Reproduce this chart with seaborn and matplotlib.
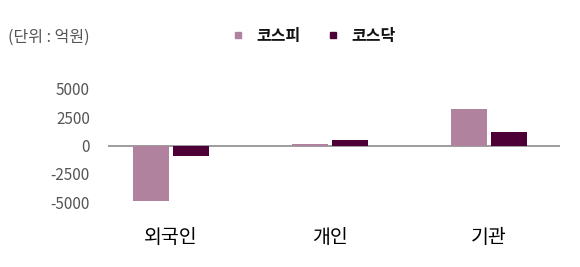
import matplotlib
matplotlib.use("Agg")
import matplotlib.pyplot as plt
import seaborn as sns
import pandas as pd
from matplotlib.lines import Line2D

categories = ["외국인", "개인", "기관"]
series_names = ["코스피", "코스닥"]
kospi = [-4900, 100, 3240]
kosdaq = [-950, 470, 1160]
yticks = [5000, 2500, 0, -2500, -5000]

sns.set_style("white")
plt.rcParams['font.family'] = ['Noto Sans CJK KR', 'DejaVu Sans']

df = pd.DataFrame({
    "cat": categories * 2,
    "series": [series_names[0]] * 3 + [series_names[1]] * 3,
    "value": kospi + kosdaq,
})

fig = plt.figure(figsize=(5.8, 2.67), dpi=100)
ax = fig.add_axes([0.186, 0.243, 0.780, 0.424])
palette = {"코스피": "#B0829E", "코스닥": "#4D0036"}
sns.barplot(data=df, x="cat", y="value", hue="series", palette=palette,
            width=0.5, gap=0.1, ax=ax, saturation=1, legend=False,
            edgecolor="none")

ax.set_xlim(-0.396, 2.447)
ax.set_ylim(-5000, 5000)
ax.axhline(0, color="#8c8c8c", lw=1.2, zorder=0.5)
for s in ax.spines.values():
    s.set_visible(False)
ax.set_yticks(yticks)
ax.set_yticklabels([str(v) for v in yticks], fontsize=11, color="#555555")
ax.tick_params(axis="y", length=0, pad=13)
ax.tick_params(axis="x", length=0, pad=18, labelsize=14, labelcolor="#000000")
ax.set_xlabel("")
ax.set_ylabel("")

fig.text(0.014, 0.86, "(단위 : 억원)", fontsize=11.5, color="#555555", va="center")
handles = [Line2D([], [], marker="s", ls="none", markersize=5, color=palette[n]) for n in series_names]
leg = fig.legend(handles, series_names, loc="center", bbox_to_anchor=(0.539, 0.865), ncol=2,
                 frameon=False, handlelength=1.0, handletextpad=0.65, columnspacing=1.53,
                 prop={"size": 11.5, "weight": "bold"})
for t in leg.get_texts():
    t.set_color("#111111")

fig.savefig("out.png", dpi=100)
